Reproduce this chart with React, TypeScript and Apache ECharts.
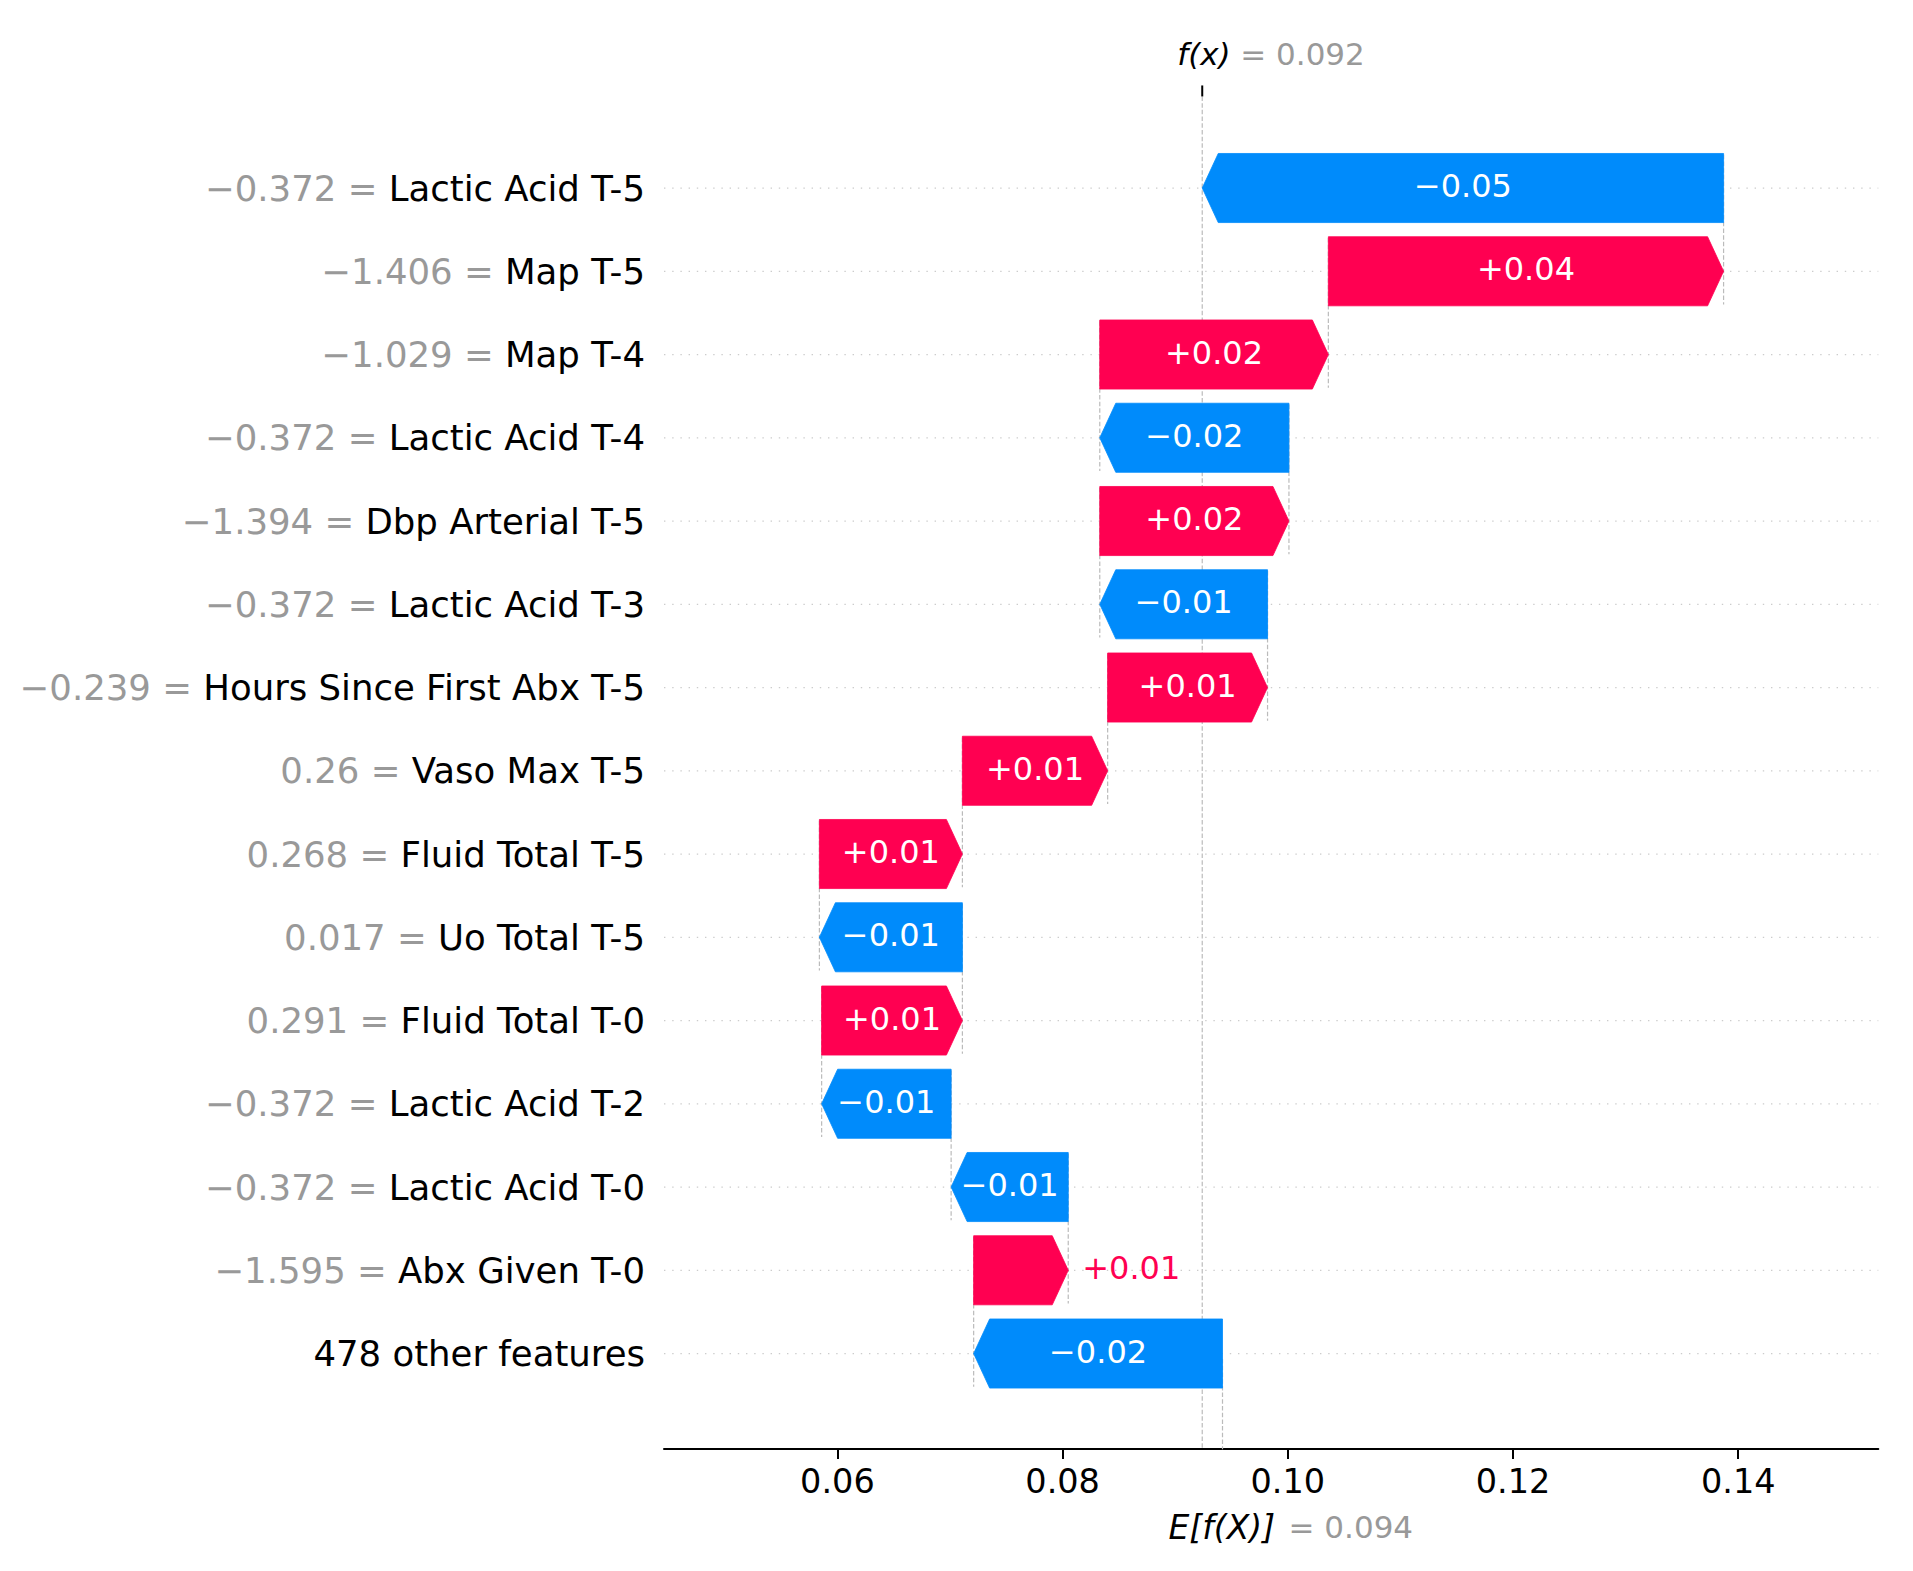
import React, { useEffect, useRef } from "react";
import * as echarts from "echarts";

// ---- data ----
const featureNames = [
  "Lactic Acid T-5",
  "Map T-5",
  "Map T-4",
  "Lactic Acid T-4",
  "Dbp Arterial T-5",
  "Lactic Acid T-3",
  "Hours Since First Abx T-5",
  "Vaso Max T-5",
  "Fluid Total T-5",
  "Uo Total T-5",
  "Fluid Total T-0",
  "Lactic Acid T-2",
  "Lactic Acid T-0",
  "Abx Given T-0",
];
const featureValues = [
  -0.372, -1.406, -1.029, -0.372, -1.394, -0.372, -0.239, 0.26, 0.268, 0.017, 0.291, -0.372, -0.372, -1.595,
];
const shapValues = [
  -0.0463, 0.0351, 0.0203, -0.0168, 0.0168, -0.0149, 0.0142, 0.0129, 0.0127, -0.0127, 0.0125, -0.0115, -0.0104,
  0.0084,
];
const otherLabel = "478 other features";
const otherValue = -0.0221;
const baseValue = 0.0942;
const xTicks = [0.06, 0.08, 0.1, 0.12, 0.14];
const xMin = 0.0446;
const xMax = 0.15244;

const RED = "#ff0051";
const BLUE = "#008bfb";
const FONT = "DejaVu Sans";

const fmtNum = (v: number) => String(v).replace("-", "\u2212");
const fmtShap = (v: number) => (v >= 0 ? "+" : "\u2212") + Math.abs(v).toFixed(2);

export default function App() {
  const ref = useRef<HTMLDivElement>(null);

  useEffect(() => {
    if (!ref.current) return;
    const chart = echarts.init(ref.current, null, { renderer: "svg" });

    const allVals = [...shapValues, otherValue];
    const n = allVals.length;
    // cumulative from the bottom (base value) upward
    const starts: number[] = new Array(n);
    const ends: number[] = new Array(n);
    let cur = baseValue;
    for (let i = n - 1; i >= 0; i--) {
      starts[i] = cur;
      cur = cur + allVals[i];
      ends[i] = cur;
    }
    const fx = cur;
    const categories = [...featureNames, otherLabel];
    const barData = allVals.map((v, i) => [starts[i], ends[i], i, v]);

    const bgRender = (params: any, api: any) => {
      const s = api.value(0);
      const r = api.value(2);
      const band = api.size([0, 1])[1];
      const c = api.coord([s, r]);
      const left = api.coord([xMin, r]);
      const right = api.coord([xMax, r]);
      const children: any[] = [
        {
          type: "line",
          shape: { x1: left[0], y1: c[1], x2: right[0], y2: c[1] },
          style: { stroke: "#cccccc", lineWidth: 1.2, lineDash: [1.4, 6.8] },
        },
      ];
      if (r < n - 1) {
        children.push({
          type: "line",
          shape: { x1: c[0], y1: c[1] - 0.4 * band, x2: c[0], y2: c[1] + 1.4 * band },
          style: { stroke: "#bbbbbb", lineWidth: 1.2, lineDash: [4.5, 2.2] },
        });
      }
      return { type: "group", children };
    };

    const barRender = (params: any, api: any) => {
      const s = api.value(0);
      const e = api.value(1);
      const r = api.value(2);
      const v = api.value(3);
      const band = api.size([0, 1])[1];
      const p0 = api.coord([s, r]);
      const p1 = api.coord([e, r]);
      const cy = p0[1];
      const h = band * 0.415;
      const w = Math.abs(p1[0] - p0[0]);
      const head = Math.min(16, w);
      const pos = v >= 0;
      const color = pos ? RED : BLUE;
      let points: number[][];
      if (pos) {
        points = [
          [p0[0], cy - h],
          [p1[0] - head, cy - h],
          [p1[0], cy],
          [p1[0] - head, cy + h],
          [p0[0], cy + h],
        ];
      } else {
        points = [
          [p0[0], cy - h],
          [p1[0] + head, cy - h],
          [p1[0], cy],
          [p1[0] + head, cy + h],
          [p0[0], cy + h],
        ];
      }
      const label = fmtShap(v);
      const inside = w > 108;
      const text = inside
        ? {
            type: "text",
            x: (p0[0] + p1[0]) / 2,
            y: cy - 2,
            style: {
              text: label,
              fill: "#ffffff",
              fontSize: 32,
              fontFamily: FONT,
              align: "center",
              verticalAlign: "middle",
            },
          }
        : {
            type: "text",
            x: pos ? p1[0] + 14 : p1[0] - 14,
            y: cy - 2,
            style: {
              text: label,
              fill: color,
              fontSize: 32,
              fontFamily: FONT,
              align: pos ? "left" : "right",
              verticalAlign: "middle",
            },
          };
      return {
        type: "group",
        children: [
          { type: "polygon", shape: { points }, style: { fill: color, stroke: color, lineWidth: 0.8 } },
          text,
        ],
      };
    };

    const annRender = (params: any, api: any) => {
      const band = api.size([0, 1])[1];
      const topRow = api.coord([fx, 0]);
      const botRow = api.coord([baseValue, n - 1]);
      const top = topRow[1] - 1.1 * band;
      const bottom = botRow[1] + 1.15 * band;
      const fxX = topRow[0];
      const bX = botRow[0];
      const dash = { stroke: "#bbbbbb", lineWidth: 1.2, lineDash: [4.5, 2.2] };
      return {
        type: "group",
        children: [
          { type: "line", z2: -1, shape: { x1: fxX, y1: top, x2: fxX, y2: bottom }, style: dash },
          {
            type: "line",
            shape: { x1: bX, y1: bottom - (bottom - top) / n, x2: bX, y2: bottom },
            style: dash,
          },
          {
            type: "line",
            shape: { x1: fxX, y1: top - 11, x2: fxX, y2: top },
            style: { stroke: "#000000", lineWidth: 2 },
          },
          {
            type: "text",
            x: fxX - 25,
            y: top - 42,
            style: {
              text: "f(x)",
              fill: "#000000",
              fontSize: 31,
              fontStyle: "italic",
              fontFamily: FONT,
              align: "left",
              verticalAlign: "middle",
            },
          },
          {
            type: "text",
            x: fxX + 38,
            y: top - 42,
            style: {
              text: "= " + fx.toFixed(3),
              fill: "#999999",
              fontSize: 31,
              fontFamily: FONT,
              align: "left",
              verticalAlign: "middle",
            },
          },
          {
            type: "text",
            x: bX - 54,
            y: bottom + 78,
            style: {
              text: "E[f(X)]",
              fill: "#000000",
              fontSize: 33,
              fontStyle: "italic",
              fontFamily: FONT,
              align: "left",
              verticalAlign: "middle",
            },
          },
          {
            type: "text",
            x: bX + 66,
            y: bottom + 78,
            style: {
              text: "= " + baseValue.toFixed(3),
              fill: "#999999",
              fontSize: 31,
              fontFamily: FONT,
              align: "left",
              verticalAlign: "middle",
            },
          },
        ],
      };
    };

    const gridTop = 146.4;
    const gridHeight = 1248.75;
    const axisY = 1449;

    chart.setOption({
      animation: false,
      backgroundColor: "#ffffff",
      textStyle: { fontFamily: FONT },
      grid: {
        left: 664,
        right: 1913 - 1878.3,
        top: gridTop,
        height: gridHeight,
        containLabel: false,
      },
      xAxis: {
        type: "value",
        min: xMin,
        max: xMax,
        offset: axisY - (gridTop + gridHeight),
        axisLine: { show: true, lineStyle: { color: "#000000", width: 2 } },
        axisTick: { show: true, customValues: xTicks, length: 10, lineStyle: { color: "#000000", width: 2 } },
        axisLabel: {
          customValues: xTicks,
          formatter: (v: number) => v.toFixed(2),
          fontSize: 33.5,
          margin: 15,
          color: "#000000",
          fontFamily: FONT,
        },
        splitLine: { show: false },
      },
      yAxis: {
        type: "category",
        inverse: true,
        data: categories,
        axisLine: { show: false },
        axisTick: { show: false },
        splitLine: { show: false },
        axisLabel: {
          margin: 19,
          fontSize: 35.5,
          fontFamily: FONT,
          color: "#000000",
          formatter: (val: string, idx: number) =>
            idx < featureNames.length ? `{v|${fmtNum(featureValues[idx])} =} {n|${val}}` : `{n|${val}}`,
          rich: {
            v: { color: "#999999", fontSize: 35.5, fontFamily: FONT },
            n: { color: "#000000", fontSize: 35.5, fontFamily: FONT },
          },
        },
      },
      series: [
        {
          type: "custom",
          name: "guides",
          z: 1,
          silent: true,
          renderItem: bgRender,
          encode: { x: [0, 1], y: 2 },
          data: barData,
        },
        {
          type: "custom",
          name: "annotations",
          z: 1,
          silent: true,
          clip: false,
          renderItem: annRender,
          encode: { x: 0, y: 1 },
          data: [[fx, 0]],
        },
        {
          type: "custom",
          name: "contributions",
          z: 3,
          renderItem: barRender,
          encode: { x: [0, 1], y: 2 },
          data: barData,
        },
      ],
    });

    return () => chart.dispose();
  }, []);

  return (
    <div
      ref={ref}
      style={{ position: "absolute", left: 0, top: 0, width: 1913, height: 1571, background: "#ffffff" }}
    />
  );
}
